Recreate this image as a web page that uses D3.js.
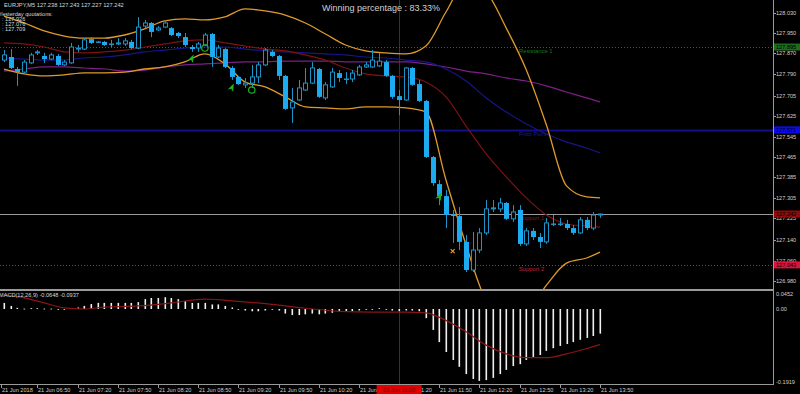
<!DOCTYPE html>
<html><head><meta charset="utf-8">
<script src="https://cdn.jsdelivr.net/npm/d3@7/dist/d3.min.js"></script>
<style>
html,body{margin:0;padding:0;background:#000;overflow:hidden;}
svg{display:block;font-family:"Liberation Sans",Arial,sans-serif;}
</style></head><body>
<script>
// EURJPY M5, bars 06:25 .. 13:50 (21 Jun 2018)
const open = [127.844,127.856,127.809,127.797,127.833,127.872,127.860,127.848,127.860,127.825,
  127.833,127.887,127.887,127.926,127.915,127.915,127.907,127.907,127.907,127.915,
  127.891,127.977,127.989,127.962,127.973,127.969,127.950,127.934,127.895,127.891,
  127.903,127.946,127.856,127.887,127.813,127.778,127.747,127.754,127.778,127.825,
  127.876,127.860,127.782,127.657,127.688,127.727,127.754,127.809,127.696,127.739,
  127.793,127.770,127.770,127.786,127.817,127.817,127.821,127.836,127.782,127.703,
  127.688,127.813,127.750,127.684,127.465,127.359,127.312,127.242,127.234,127.133,
  127.023,127.101,127.168,127.262,127.262,127.285,127.223,127.258,127.125,127.176,
  127.152,127.133,127.203,127.203,127.203,127.187,127.168,127.219,127.187,127.238];
const high = [127.883,127.887,127.817,127.844,127.872,127.883,127.872,127.872,127.868,127.844,
  127.911,127.903,127.930,127.934,127.919,127.919,127.923,127.930,127.930,127.923,
  128.012,128.001,127.993,127.977,128.001,127.973,127.954,127.950,127.903,127.915,
  127.950,127.950,127.903,127.891,127.821,127.782,127.774,127.825,127.836,127.891,
  127.883,127.864,127.786,127.735,127.766,127.813,127.836,127.813,127.758,127.813,
  127.805,127.797,127.805,127.825,127.836,127.883,127.872,127.844,127.786,127.727,
  127.817,127.817,127.766,127.688,127.469,127.375,127.336,127.258,127.269,127.160,
  127.172,127.187,127.297,127.297,127.305,127.289,127.277,127.277,127.187,127.187,
  127.168,127.226,127.238,127.226,127.219,127.199,127.230,127.230,127.250,127.243];
const low = [127.836,127.809,127.743,127.790,127.829,127.864,127.833,127.844,127.821,127.821,
  127.829,127.876,127.883,127.907,127.911,127.899,127.895,127.903,127.899,127.887,
  127.887,127.969,127.934,127.958,127.969,127.938,127.930,127.895,127.876,127.876,
  127.899,127.817,127.852,127.813,127.766,127.747,127.735,127.735,127.754,127.821,
  127.856,127.766,127.649,127.598,127.684,127.723,127.750,127.696,127.688,127.735,
  127.758,127.750,127.758,127.782,127.813,127.813,127.817,127.778,127.692,127.629,
  127.684,127.743,127.680,127.461,127.352,127.277,127.187,127.129,127.101,127.015,
  127.015,127.089,127.160,127.250,127.250,127.219,127.211,127.117,127.117,127.140,
  127.109,127.125,127.195,127.195,127.179,127.160,127.164,127.179,127.179,127.227];
const close = [127.864,127.813,127.797,127.836,127.864,127.876,127.848,127.864,127.825,127.836,
  127.895,127.891,127.923,127.911,127.915,127.903,127.907,127.911,127.919,127.891,
  127.973,127.989,127.954,127.969,127.989,127.942,127.938,127.903,127.887,127.907,
  127.942,127.856,127.891,127.817,127.778,127.750,127.754,127.778,127.825,127.883,
  127.860,127.782,127.653,127.680,127.735,127.754,127.813,127.700,127.747,127.797,
  127.774,127.770,127.793,127.817,127.825,127.844,127.840,127.782,127.700,127.688,
  127.813,127.747,127.684,127.465,127.363,127.312,127.238,127.234,127.133,127.023,
  127.101,127.168,127.262,127.266,127.285,127.223,127.250,127.125,127.176,127.152,
  127.133,127.207,127.203,127.203,127.187,127.168,127.219,127.187,127.238,127.242];

// indicator lines sampled every 3 bars (last = bar 89)
const lineIdx = [0,3,6,9,12,15,18,21,24,27,30,33,36,39,42,45,48,51,54,57,60,63,66,69,72,75,78,81,84,87,89];
const bbUpper = [128.016,127.989,127.958,127.938,127.930,127.930,127.942,127.966,127.997,128.005,
  128.001,128.013,128.044,128.036,128.020,127.989,127.946,127.903,127.880,127.872,
  127.868,127.899,128.032,128.149,128.110,127.969,127.805,127.590,127.352,127.309,127.305];
const bbLower = [127.809,127.790,127.782,127.786,127.794,127.794,127.797,127.809,127.817,127.837,
  127.868,127.829,127.758,127.739,127.700,127.661,127.657,127.653,127.661,127.661,
  127.657,127.641,127.375,127.121,126.906,126.847,126.859,126.964,127.050,127.070,127.093];
const maRed = [127.911,127.907,127.895,127.876,127.872,127.876,127.883,127.895,127.907,127.919,
  127.923,127.911,127.899,127.887,127.880,127.864,127.844,127.813,127.790,127.782,
  127.778,127.758,127.700,127.586,127.477,127.387,127.305,127.238,127.203,127.195,127.191];
const maBlue = [127.852,127.848,127.844,127.844,127.852,127.856,127.864,127.876,127.883,127.891,
  127.895,127.895,127.887,127.880,127.876,127.872,127.868,127.864,127.856,127.852,
  127.844,127.837,127.809,127.762,127.696,127.641,127.594,127.555,127.524,127.500,127.481];
const maPurple = [127.801,127.809,127.817,127.817,127.813,127.809,127.801,127.805,127.817,127.825,
  127.829,127.833,127.837,127.837,127.840,127.840,127.840,127.837,127.837,127.837,
  127.837,127.829,127.817,127.801,127.790,127.774,127.762,127.743,127.719,127.696,127.680];

// MACD(12,26,9) histogram per bar and signal line
const macdHist = [0.016,0.008,0.003,0.001,0.002,0.002,0.001,0.001,-0.001,-0.002,
  0.002,0.004,0.008,0.013,0.016,0.016,0.016,0.016,0.016,0.016,
  0.018,0.026,0.029,0.029,0.031,0.029,0.026,0.021,0.016,0.016,
  0.016,0.012,0.012,0.008,0.004,0.000,-0.004,-0.006,-0.006,-0.004,
  -0.002,-0.004,-0.012,-0.016,-0.016,-0.014,-0.012,-0.014,-0.012,-0.010,
  -0.008,-0.006,-0.006,-0.004,-0.002,0.000,0.002,0.000,-0.004,-0.006,
  -0.004,-0.004,-0.006,-0.024,-0.055,-0.087,-0.113,-0.134,-0.152,-0.171,
  -0.184,-0.189,-0.187,-0.181,-0.171,-0.160,-0.150,-0.145,-0.134,-0.126,
  -0.121,-0.110,-0.103,-0.097,-0.092,-0.087,-0.081,-0.076,-0.071,-0.0648];
const signalIdx = [0,3,6,9,12,15,20,25,30,35,40,45,50,55,60,63,66,69,72,75,78,81,84,87,89];
const signalVal = [0.037,0.029,0.016,0.003,0.000,0.005,0.008,0.016,0.026,0.020,0.012,0.002,-0.006,-0.008,-0.008,-0.010,-0.030,-0.060,-0.095,-0.118,-0.128,-0.128,-0.118,-0.104,-0.0937];

const priceTicks = [128.030,127.950,127.870,127.790,127.705,127.625,127.545,127.465,127.385,127.305,127.225,127.140,127.060,126.980];
const macdTicks = [0.0452,0.00,-0.1919];
const macdTickText = ["0.0452","0.00","-0.1919"];
const timeBars = [0,5,11,17,23,29,35,41,47,53,59,65,71,77,83,89];
const timeLabels = ["21 Jun 2018","21 Jun 06:50","21 Jun 07:20","21 Jun 07:50","21 Jun 08:20","21 Jun 08:50",
  "21 Jun 09:20","21 Jun 09:50","21 Jun 10:20","21 Jun 10:50","21 Jun 11:20","21 Jun 11:50",
  "21 Jun 12:20","21 Jun 12:50","21 Jun 13:20","21 Jun 13:50"];

const levels = [
  {name:"Resistance 1", price:127.895, color:"#1c7a1c", box:"#1d6b1d", dash:"1,2"},
  {name:"Pivot Point", price:127.571, color:"#10108c", box:"#0a0ae6", dash:null},
  {name:"Support 1", price:127.242, color:"#8a1a1a", box:"#8e0b0b", dash:null},
  {name:"Support 2", price:127.043, color:"#c8203a", box:"#dc143c", dash:"1,2"}
];
const upArrows = [[28,127.848],[34,127.735],[65,127.308]];
const circles = [[30,127.891],[37,127.727]];
const crosses = [[67,127.097]];
const vlineBar = 59;

const W = 800, H = 394, axisX = 773;
const x = d3.scaleLinear().domain([0, 89]).range([4, 600]);
const y = d3.scaleLinear().domain([126.980, 128.030]).range([281, 12.5]);
const ym = d3.scaleLinear().domain([-0.1919, 0.0452]).range([382, 291.8]);
const px = i => Math.round(x(i)) + 0.5;

const svg = d3.select("body").append("svg").attr("width", W).attr("height", H);
svg.append("rect").attr("width", W).attr("height", H).attr("fill", "#000");
const defs = svg.append("defs");
defs.append("clipPath").attr("id", "cMain").append("rect").attr("x", 0).attr("y", 0).attr("width", axisX).attr("height", 289);
defs.append("clipPath").attr("id", "cMacd").append("rect").attr("x", 0).attr("y", 291).attr("width", axisX).attr("height", 93);

// vertical line (behind everything)
svg.append("line").attr("x1", px(vlineBar)).attr("x2", px(vlineBar)).attr("y1", 0).attr("y2", 384)
  .attr("stroke", "#8c0a14").attr("stroke-width", 1);

const main = svg.append("g").attr("clip-path", "url(#cMain)");

// horizontal levels
levels.forEach(l => {
  const yy = Math.round(y(l.price)) + 0.5;
  main.append("line").attr("x1", 0).attr("x2", axisX).attr("y1", yy).attr("y2", yy)
    .attr("stroke", l.color).attr("stroke-width", l.name === "Pivot Point" ? 2 : 1)
    .attr("stroke-dasharray", l.dash);
  main.append("text").attr("x", 519).attr("y", yy + 5).attr("font-size", 5.8)
    .attr("fill", l.name === "Pivot Point" ? "#1a1ab0" : l.color).text(l.name);
});

// bid line
const bid = close[close.length - 1];
main.append("line").attr("x1", 0).attr("x2", axisX).attr("y1", Math.round(y(bid)) + 0.5).attr("y2", Math.round(y(bid)) + 0.5)
  .attr("stroke", "#9a9a9a").attr("stroke-width", 1);

// indicator lines
const ln = d3.line().x((d, k) => x(lineIdx[k])).y(d => y(d)).curve(d3.curveMonotoneX);
main.append("path").attr("d", ln(maPurple)).attr("fill", "none").attr("stroke", "#7d1f86").attr("stroke-width", 1.2);
main.append("path").attr("d", ln(maBlue)).attr("fill", "none").attr("stroke", "#16168a").attr("stroke-width", 1.2);
main.append("path").attr("d", ln(maRed)).attr("fill", "none").attr("stroke", "#7c1212").attr("stroke-width", 1.2);
main.append("path").attr("d", ln(bbUpper)).attr("fill", "none").attr("stroke", "#e09a2a").attr("stroke-width", 1.3);
main.append("path").attr("d", ln(bbLower)).attr("fill", "none").attr("stroke", "#e09a2a").attr("stroke-width", 1.3);

// candles
const bullCol = "#1e93c8", bearCol = "#1cabf0";
const cg = main.append("g");
d3.range(open.length).forEach(i => {
  const bull = close[i] >= open[i];
  const cx = px(i);
  cg.append("line").attr("x1", cx).attr("x2", cx).attr("y1", y(high[i])).attr("y2", y(low[i]))
    .attr("stroke", bullCol).attr("stroke-width", 1);
  const top = y(Math.max(open[i], close[i])), bot = y(Math.min(open[i], close[i]));
  if (bull) {
    cg.append("rect").attr("x", cx - 2).attr("y", top).attr("width", 4).attr("height", Math.max(0.5, bot - top))
      .attr("fill", "#000").attr("stroke", bullCol).attr("stroke-width", 1);
  } else {
    cg.append("rect").attr("x", cx - 2.5).attr("y", top).attr("width", 5).attr("height", Math.max(1, bot - top))
      .attr("fill", bearCol);
  }
});

// signal markers
upArrows.forEach(([i, p]) => {
  main.append("path").attr("d", "M0,-5L3,3L0,1L-3,3Z")
    .attr("transform", `translate(${x(i)},${y(p)}) rotate(25)`)
    .attr("fill", "#1fb51f");
});
circles.forEach(([i, p]) => {
  main.append("circle").attr("cx", x(i)).attr("cy", y(p)).attr("r", 3.2)
    .attr("fill", "none").attr("stroke", "#1fb51f").attr("stroke-width", 1.2);
});
crosses.forEach(([i, p]) => {
  main.append("path").attr("d", "M-2,-2L2,2M2,-2L-2,2")
    .attr("transform", `translate(${x(i)},${y(p)})`)
    .attr("stroke", "#e09a2a").attr("stroke-width", 1.2);
});

// texts top-left
const txt = (xx, yy, s, size, col, anchor) => svg.append("text").attr("x", xx).attr("y", yy)
  .attr("font-size", size).attr("fill", col || "#d8d8d8").attr("text-anchor", anchor || "start").text(s);
txt(4, 7, "EURJPY,M5  127.238 127.243 127.227 127.242", 5.7);
txt(-1, 16, "Yesterday quotations:", 5.6);
txt(2, 21, ": 127.926", 5.6);
txt(2, 26, ": 127.076", 5.6);
txt(2, 31, ": 127.709", 5.6);
txt(381, 11, "Winning percentage : 83.33%", 9, "#d0d0d0", "middle");

// MACD panel
const mg = svg.append("g").attr("clip-path", "url(#cMacd)");
macdHist.forEach((v, i) => {
  const y0 = ym(0), y1 = ym(v);
  mg.append("rect").attr("x", Math.round(x(i)) - 0.5).attr("width", 1.6)
    .attr("y", Math.min(y0, y1)).attr("height", Math.max(0.8, Math.abs(y1 - y0))).attr("fill", "#f0f0f0");
});
const sl = d3.line().x((d, k) => x(signalIdx[k])).y(d => ym(d)).curve(d3.curveMonotoneX);
mg.append("path").attr("d", sl(signalVal)).attr("fill", "none").attr("stroke", "#8a1414").attr("stroke-width", 1.2);
txt(-1, 297, "MACD(12,26,9) -0.0648 -0.0937", 5.6);

// frames
svg.append("line").attr("x1", 0).attr("x2", axisX).attr("y1", 290).attr("y2", 290).attr("stroke", "#9a9a9a").attr("stroke-width", 2);
svg.append("line").attr("x1", 0).attr("x2", axisX + 0.5).attr("y1", 384.5).attr("y2", 384.5).attr("stroke", "#9a9a9a").attr("stroke-width", 1);
svg.append("line").attr("x1", axisX + 0.5).attr("x2", axisX + 0.5).attr("y1", 0).attr("y2", 385).attr("stroke", "#9a9a9a").attr("stroke-width", 1);

// price axis
priceTicks.forEach(p => {
  const yy = y(p);
  svg.append("line").attr("x1", axisX).attr("x2", axisX + 3).attr("y1", Math.round(yy) + 0.5).attr("y2", Math.round(yy) + 0.5).attr("stroke", "#9a9a9a");
  txt(776, yy + 2, p.toFixed(3), 5.6, "#cfcfcf");
});
// level boxes on axis
levels.forEach(l => {
  const yy = y(l.price);
  svg.append("rect").attr("x", axisX + 1).attr("y", yy - 3.5).attr("width", W - axisX).attr("height", 7).attr("fill", l.box);
  txt(776, yy + 2, l.price.toFixed(3), 5.6, "#000");
});

// macd axis
macdTicks.forEach((v, k) => {
  const yy = ym(v) + (k === 0 ? 2.5 : 0);
  txt(776, yy + 2, macdTickText[k], 5.6, "#cfcfcf");
});

// time axis
timeBars.forEach((b, k) => {
  const xx = k === 0 ? 1 : Math.round(x(b));
  svg.append("line").attr("x1", xx + 0.5).attr("x2", xx + 0.5).attr("y1", 385).attr("y2", 388).attr("stroke", "#9a9a9a");
  txt(xx + 1, 391.5, timeLabels[k], 5.6, "#cfcfcf");
});
// vertical line label
const vx = x(vlineBar);
svg.append("rect").attr("x", vx - 22.5).attr("y", 385).attr("width", 45).attr("height", 9).attr("fill", "#e00000");
txt(vx, 391.5, "21 Jun 11:20", 5.6, "#7a0000", "middle");
</script>
</body></html>
